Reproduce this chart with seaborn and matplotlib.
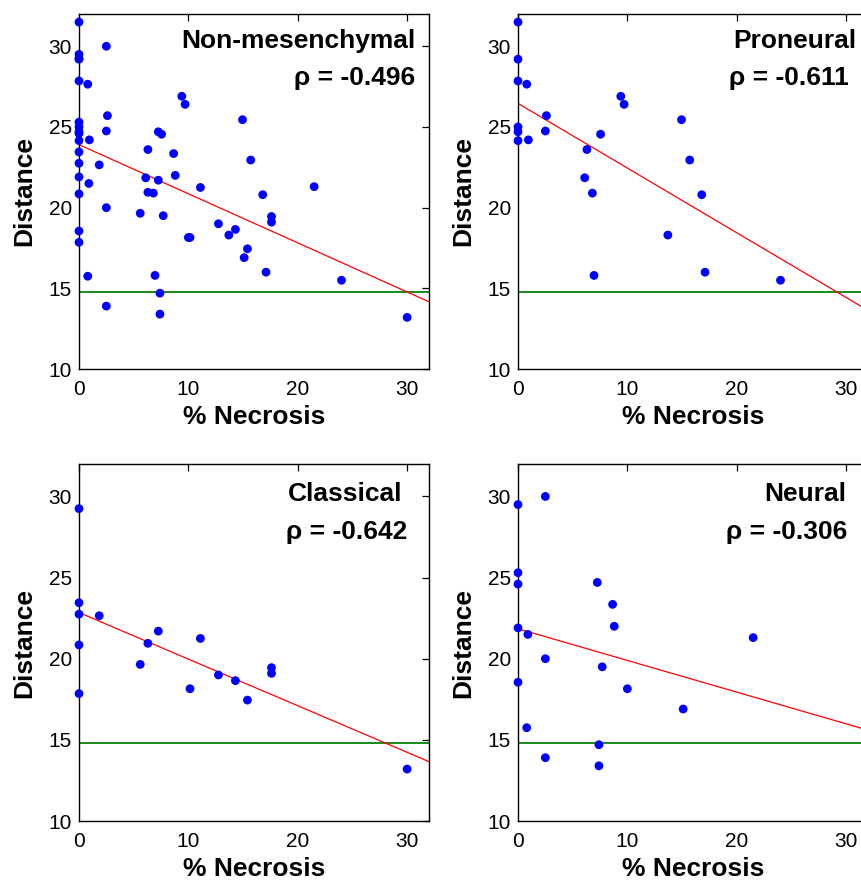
import numpy as np
import pandas as pd
import matplotlib
matplotlib.use("Agg")
import matplotlib.pyplot as plt
import seaborn as sns

# values (x = % necrosis, y = distance)
pn_x = [0, 0, 0, 0, 0, 0, 0.8, 0.95, 2.6, 2.5, 6.3, 6.1, 6.8, 6.95, 7.55, 9.4, 9.7,
        13.7, 14.95, 15.7, 16.8, 17.1, 24.0]
pn_y = [31.5, 29.2, 27.85, 25.0, 24.7, 24.15, 27.65, 24.2, 25.7, 24.75, 23.6, 21.85, 20.9,
        15.8, 24.55, 26.9, 26.4, 18.3, 25.45, 22.95, 20.8, 16.0, 15.5]

cl_x = [0, 0, 0, 0, 0, 1.85, 5.6, 6.3, 7.25, 10.15, 11.1, 12.75, 14.3, 15.4, 17.6, 17.6, 30.0]
cl_y = [29.25, 23.45, 22.75, 20.85, 17.85, 22.65, 19.65, 20.95, 21.7, 18.15, 21.25, 19.0,
        18.65, 17.45, 19.45, 19.1, 13.2]

nl_x = [0, 0, 0, 0, 0, 0.9, 0.8, 2.5, 2.5, 2.5, 7.25, 7.4, 7.4, 7.7, 8.65, 8.8, 10.0, 15.1, 21.5]
nl_y = [29.5, 25.3, 24.6, 21.9, 18.55, 21.5, 15.75, 30.0, 20.0, 13.9, 24.7, 14.7, 13.4, 19.5,
        23.35, 22.0, 18.15, 16.9, 21.3]

threshold = 14.8
titles = ["Non-mesenchymal", "Proneural", "Classical", "Neural"]
rhos = ["-0.496", "-0.611", "-0.642", "-0.306"]

# non-mesenchymal = all three other subtypes together
groups = [
    (pn_x + cl_x + nl_x, pn_y + cl_y + nl_y),
    (pn_x, pn_y),
    (cl_x, cl_y),
    (nl_x, nl_y),
]

sns.set_style("white")
plt.rcParams["font.family"] = ["Liberation Sans", "DejaVu Sans"]
plt.rcParams["text.color"] = "black"
plt.rcParams["axes.labelcolor"] = "black"

W, H = 862, 880
fig = plt.figure(figsize=(W / 100, H / 100), dpi=100)

# axes boxes in pixels: left, top, right, bottom
boxes = [(79, 14, 429, 369), (518, 14, 868, 369), (79, 464, 429, 821), (518, 464, 868, 821)]
# text placement: (title x, rho x, title y, rho y)
text_pos = [(30.8, 30.7, 29.9, 27.6), (30.9, 30.2, 29.9, 27.6),
            (29.6, 30.0, 29.75, 27.4), (30.0, 30.1, 29.75, 27.4)]

for i, (l, t, r, b) in enumerate(boxes):
    ax = fig.add_axes([l / W, (H - b) / H, (r - l) / W, (b - t) / H])
    x, y = groups[i]
    df = pd.DataFrame({"necrosis": x, "distance": y})

    ax.set_xlim(0, 32)
    ax.set_ylim(10, 32)

    ax.axhline(threshold, color="#1a8a1a", lw=1.4, zorder=1)
    sns.regplot(data=df, x="necrosis", y="distance", ax=ax, scatter=False, ci=None,
                truncate=False, color="#ff0000", line_kws={"lw": 0.9, "zorder": 2})
    sns.scatterplot(data=df, x="necrosis", y="distance", ax=ax, color="#0000ff",
                    s=40, edgecolor="none", zorder=3, clip_on=False)

    ax.set_xlim(0, 32)
    ax.set_ylim(10, 32)
    ax.set_xticks([0, 10, 20, 30])
    ax.set_yticks([10, 15, 20, 25, 30])
    ax.tick_params(direction="in", top=True, right=True, length=5, width=0.9,
                   labelsize=15, colors="black")
    ax.tick_params(axis="x", pad=8)
    ax.tick_params(axis="y", pad=5)
    for sp in ax.spines.values():
        sp.set_color("black")
        sp.set_linewidth(1.0)

    ax.set_xlabel("% Necrosis", fontsize=19, fontweight="bold")
    ax.set_ylabel("Distance", fontsize=19, fontweight="bold")
    ax.xaxis.set_label_coords(0.5, -0.1)
    ax.yaxis.set_label_coords(-0.121, 0.5)

    tx, rx, ty, ry = text_pos[i]
    ax.text(tx, ty, titles[i], ha="right", va="baseline", fontsize=19, fontweight="bold")
    ax.text(rx, ry, "\u03c1 = " + rhos[i], ha="right", va="baseline", fontsize=19,
            fontweight="bold")

fig.savefig("out.png", dpi=100)
